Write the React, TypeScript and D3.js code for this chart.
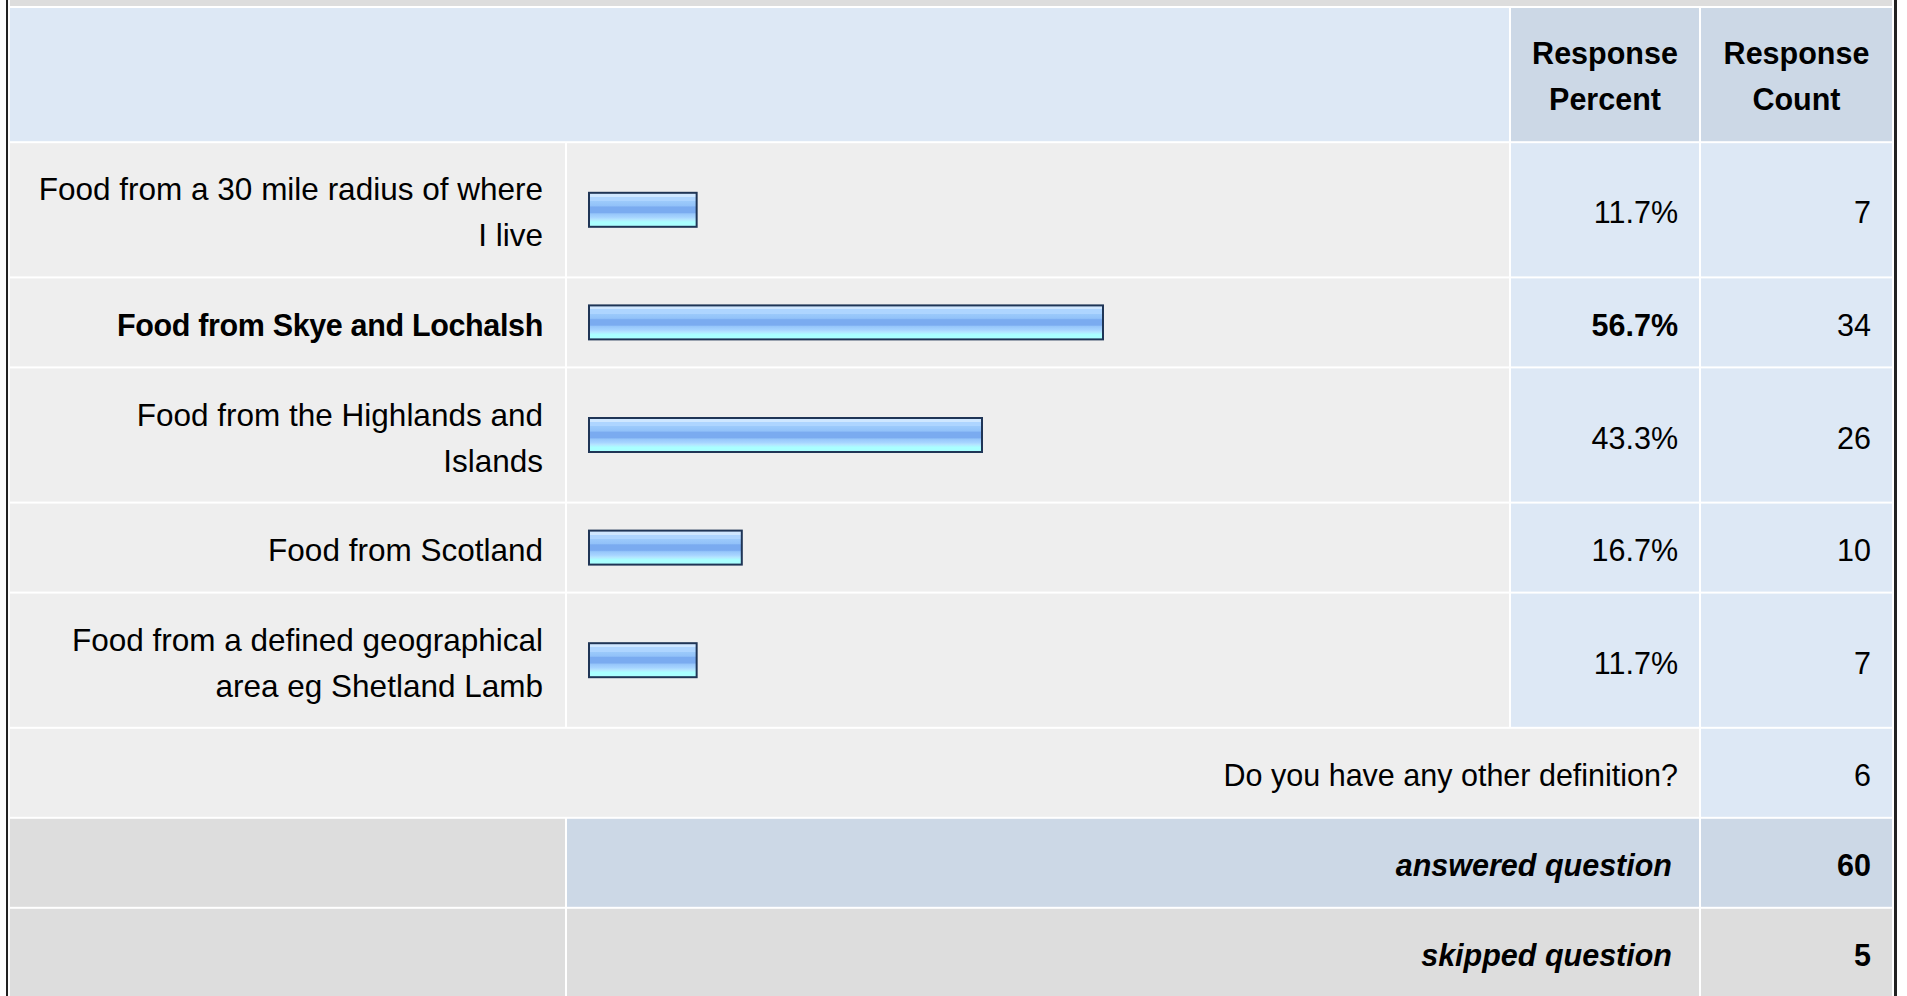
import React from "react";
import * as d3 from "d3";

// ---- data ----
const categories = [
  "Food from a 30 mile radius of where\nI live",
  "Food from Skye and Lochalsh",
  "Food from the Highlands and\nIslands",
  "Food from Scotland",
  "Food from a defined geographical\narea eg Shetland Lamb",
];
const percents = [11.7, 56.7, 43.3, 16.7, 11.7];
const counts = [7, 34, 26, 10, 7];
const headerLabels = ["Response\nPercent", "Response\nCount"];
const otherLabel = "Do you have any other definition?";
const otherCount = 6;
const answeredLabel = "answered question";
const answeredCount = 60;
const skippedLabel = "skipped question";
const skippedCount = 5;

// ---- layout ----
const W = 1907;
const H = 996;
const FONT = "'Liberation Sans', Arial, Helvetica, sans-serif";
const FS = 30.5;
const LINE = 46;
const GAP = 2;
const colStart = [10, 567, 1511, 1701];
const colEnd = [565, 1509, 1699, 1892];
const PAD = 21;
const rowH = (n: number) => 42.8 + 45.2 * n;

const C_LABEL = "#eeeeee";
const C_RESP = "#dde8f5";
const C_HEAD_R = "#ccd8e6";
const C_GRAY = "#dddddd";

function MultiText({ text, x, cy, anchor, weight, style, fs, ls }: any) {
  const lines = String(text).split("\n");
  const n = lines.length;
  return (
    <text
      x={x}
      textAnchor={anchor}
      fontFamily={FONT}
      fontSize={fs || FS}
      fontWeight={weight || "normal"}
      fontStyle={style || "normal"}
      letterSpacing={ls || 0}
      fill="#000"
    >
      {lines.map((l, i) => (
        <tspan key={i} x={x} y={cy + 13.6 + (i - (n - 1) / 2) * LINE}>
          {l}
        </tspan>
      ))}
    </text>
  );
}

export default function App() {
  const x = d3.scaleLinear().domain([0, 100]).range([0, 903]);
  const maxIdx = d3.maxIndex(percents);

  // compute row positions
  const rows: { y: number; h: number }[] = [];
  let y = 8;
  const lineCounts = [
    2,
    ...categories.map((c) => c.split("\n").length),
    1,
    1,
    1,
  ];
  lineCounts.forEach((n) => {
    const h = rowH(n);
    rows.push({ y, h });
    y += h + GAP;
  });

  const header = rows[0];
  const dataRows = rows.slice(1, 1 + categories.length);
  const otherRow = rows[1 + categories.length];
  const ansRow = rows[2 + categories.length];
  const skipRow = rows[3 + categories.length];

  const cw = (i: number) => colEnd[i] - colStart[i];
  const barH = 36;
  const barX0 = colStart[1] + PAD;

  return (
    <div style={{ position: "absolute", left: 0, top: 0, width: W, height: H, overflow: "hidden" }}>
      <svg width={W} height={H} style={{ display: "block" }}>
        <defs>
          <linearGradient id="barGrad" x1="0" y1="0" x2="0" y2="1">
            <stop offset="0" stopColor="#cfe7ff" />
            <stop offset="0.12" stopColor="#cfe7ff" />
            <stop offset="0.12" stopColor="#aed5ff" />
            <stop offset="0.25" stopColor="#aed5ff" />
            <stop offset="0.25" stopColor="#9ccafb" />
            <stop offset="0.38" stopColor="#92c2f9" />
            <stop offset="0.42" stopColor="#7aabf0" />
            <stop offset="0.58" stopColor="#7aabf0" />
            <stop offset="0.62" stopColor="#96c6fa" />
            <stop offset="0.72" stopColor="#a6d4ff" />
            <stop offset="0.78" stopColor="#b4e4ff" />
            <stop offset="0.86" stopColor="#aaffff" />
            <stop offset="1" stopColor="#aaffff" />
          </linearGradient>
        </defs>
        <rect x={0} y={0} width={W} height={H} fill="#ffffff" />
        {/* top band (previous row) */}
        <rect x={colStart[0]} y={0} width={colEnd[3] - colStart[0]} height={6} fill={C_GRAY} />

        {/* header */}
        <rect x={colStart[0]} y={header.y} width={colEnd[1] - colStart[0]} height={header.h} fill={C_RESP} />
        {[2, 3].map((ci, k) => (
          <g key={ci}>
            <rect x={colStart[ci]} y={header.y} width={cw(ci)} height={header.h} fill={C_HEAD_R} />
            <MultiText
              text={headerLabels[k]}
              x={(colStart[ci] + colEnd[ci]) / 2}
              cy={header.y + header.h / 2 - 1}
              anchor="middle"
              weight="bold"
            />
          </g>
        ))}

        {/* data rows */}
        {categories.map((cat, i) => {
          const r = dataRows[i];
          const cy = r.y + r.h / 2;
          const bold = i === maxIdx;
          return (
            <g key={i}>
              <rect x={colStart[0]} y={r.y} width={cw(0)} height={r.h} fill={C_LABEL} />
              <rect x={colStart[1]} y={r.y} width={cw(1)} height={r.h} fill={C_LABEL} />
              <rect x={colStart[2]} y={r.y} width={cw(2)} height={r.h} fill={C_RESP} />
              <rect x={colStart[3]} y={r.y} width={cw(3)} height={r.h} fill={C_RESP} />
              <MultiText
                text={cat}
                x={colEnd[0] - PAD - 1}
                cy={cy}
                anchor="end"
                weight={bold ? "bold" : "normal"}
                fs={bold ? 30.5 : 31.5}
                ls={bold ? -0.35 : 0}
              />
              <rect
                x={barX0 + 1}
                y={cy - barH / 2 + 1}
                width={x(percents[i]) + 2}
                height={barH - 2}
                fill="url(#barGrad)"
                stroke="#1f3556"
                strokeWidth={2}
              />
              <MultiText
                text={`${percents[i].toFixed(1)}%`}
                x={colEnd[2] - PAD}
                cy={cy}
                anchor="end"
                weight={bold ? "bold" : "normal"}
              />
              <MultiText text={String(counts[i])} x={colEnd[3] - PAD} cy={cy} anchor="end" />
            </g>
          );
        })}

        {/* other row */}
        <rect x={colStart[0]} y={otherRow.y} width={colEnd[2] - colStart[0]} height={otherRow.h} fill={C_LABEL} />
        <rect x={colStart[3]} y={otherRow.y} width={cw(3)} height={otherRow.h} fill={C_RESP} />
        <MultiText text={otherLabel} x={colEnd[2] - PAD} cy={otherRow.y + otherRow.h / 2} anchor="end" />
        <MultiText text={String(otherCount)} x={colEnd[3] - PAD} cy={otherRow.y + otherRow.h / 2} anchor="end" />

        {/* answered row */}
        <rect x={colStart[0]} y={ansRow.y} width={cw(0)} height={ansRow.h} fill={C_GRAY} />
        <rect x={colStart[1]} y={ansRow.y} width={colEnd[2] - colStart[1]} height={ansRow.h} fill={C_HEAD_R} />
        <rect x={colStart[3]} y={ansRow.y} width={cw(3)} height={ansRow.h} fill={C_HEAD_R} />
        <MultiText
          text={answeredLabel}
          x={colEnd[2] - PAD - 6}
          cy={ansRow.y + ansRow.h / 2}
          anchor="end"
          weight="bold"
          style="italic"
        />
        <MultiText
          text={String(answeredCount)}
          x={colEnd[3] - PAD}
          cy={ansRow.y + ansRow.h / 2}
          anchor="end"
          weight="bold"
        />

        {/* skipped row */}
        <rect x={colStart[0]} y={skipRow.y} width={cw(0)} height={skipRow.h} fill={C_GRAY} />
        <rect x={colStart[1]} y={skipRow.y} width={colEnd[2] - colStart[1]} height={skipRow.h} fill={C_GRAY} />
        <rect x={colStart[3]} y={skipRow.y} width={cw(3)} height={skipRow.h} fill={C_GRAY} />
        <MultiText
          text={skippedLabel}
          x={colEnd[2] - PAD - 6}
          cy={skipRow.y + skipRow.h / 2}
          anchor="end"
          weight="bold"
          style="italic"
        />
        <MultiText
          text={String(skippedCount)}
          x={colEnd[3] - PAD}
          cy={skipRow.y + skipRow.h / 2}
          anchor="end"
          weight="bold"
        />

        {/* outer borders */}
        <rect x={6} y={0} width={2} height={H} fill="#222222" />
        <rect x={1894} y={0} width={3} height={H} fill="#222222" />
      </svg>
    </div>
  );
}
